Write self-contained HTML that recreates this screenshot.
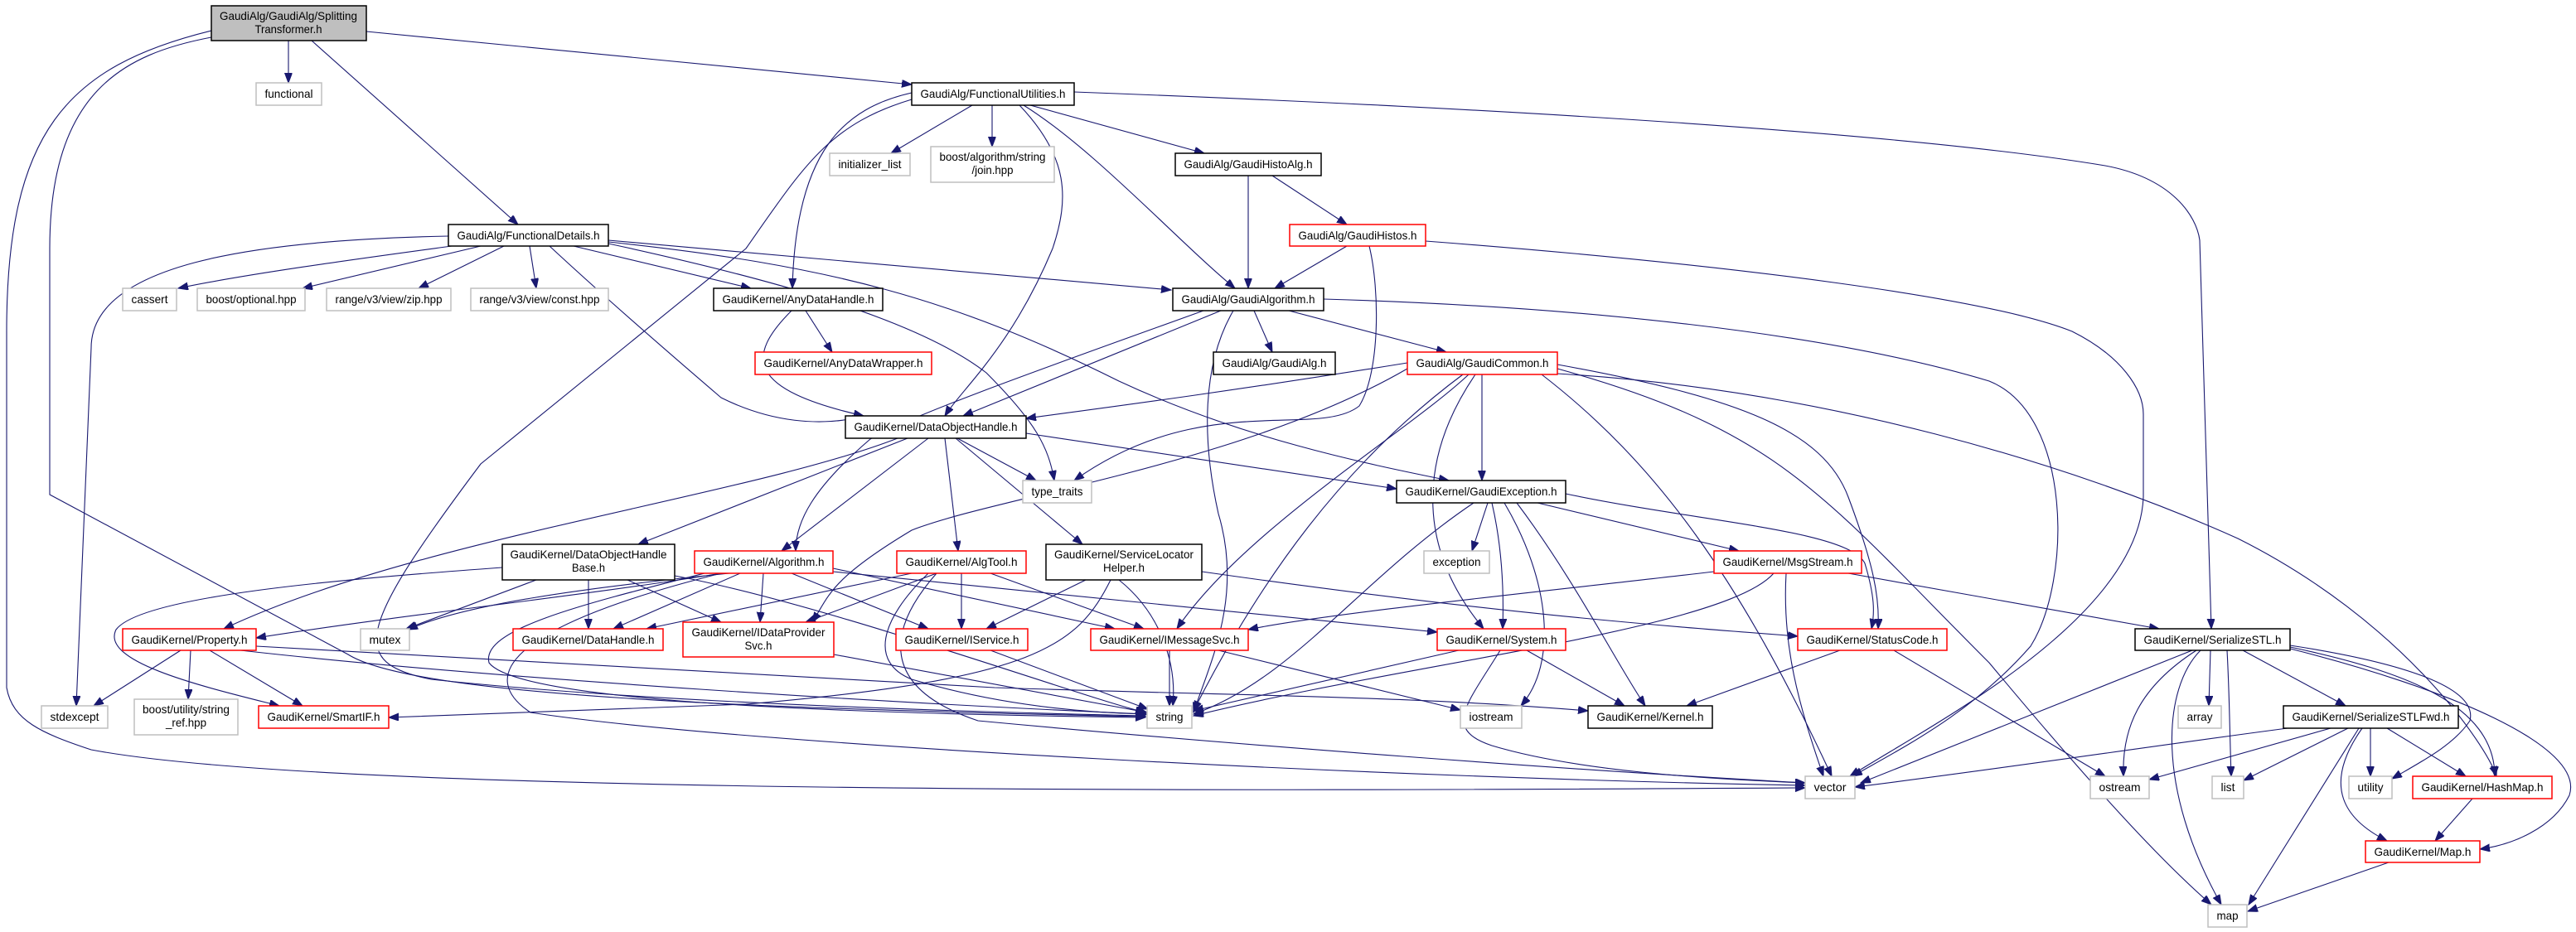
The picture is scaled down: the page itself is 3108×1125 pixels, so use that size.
<!DOCTYPE html>
<html><head><meta charset="utf-8"><style>
html,body{margin:0;padding:0;background:#fff;}
svg{display:block;}
text{font-family:"Liberation Sans",sans-serif;font-size:14px;text-anchor:middle;fill:#000;}
.e{fill:none;stroke:#191970;stroke-width:1.1;marker-end:url(#a);}
.k{fill:#fff;stroke:#000;stroke-width:1.5;}
.r{fill:#fff;stroke:#ff0000;stroke-width:1.5;}
.g{fill:#fff;stroke:#bfbfbf;stroke-width:1.5;}
</style></head><body>
<svg width="3108" height="1125" viewBox="0 0 3108 1125" xmlns="http://www.w3.org/2000/svg">
<defs><marker id="a" markerUnits="userSpaceOnUse" markerWidth="13" markerHeight="10" refX="12" refY="4.5" orient="auto"><path d="M0,0 L12,4.5 L0,9 z" fill="#191970" stroke="#191970"/></marker></defs>
<g>
<path class="e" d="M348 49 L348 100"/>
<path class="e" d="M376 49 L625 271"/>
<path class="e" d="M442 38 L1100 102"/>
<path class="e" d="M255 45 C150 65, 60 110, 60 300 L60 597 L420 790 C500 840, 900 855, 1382 865"/>
<path class="e" d="M255 37 C80 80, 8 160, 8 400 L8 830 C15 870, 50 885, 110 905 C400 960, 1500 955, 2178 951"/>
<path class="e" d="M541 285 C300 290, 110 320, 110 420 L92 852"/>
<path class="e" d="M545 297 C450 310, 300 330, 215 348"/>
<path class="e" d="M580 297 L365 348"/>
<path class="e" d="M608 297 L505 348"/>
<path class="e" d="M639 297 L647 348"/>
<path class="e" d="M692 297 L906 348"/>
<path class="e" d="M663 297 C720 350, 800 420, 870 480 C930 510, 990 515, 1040 503"/>
<path class="e" d="M734 290 L1413 350"/>
<path class="e" d="M734 292 C1000 320, 1150 360, 1350 460 C1500 530, 1650 560, 1748 580"/>
<path class="e" d="M734 294 C900 330, 1100 380, 1190 450 C1250 510, 1265 540, 1272 580"/>
<path class="e" d="M955 375 C900 430, 900 470, 1042 502"/>
<path class="e" d="M972 375 L1004 425"/>
<path class="e" d="M1173 127 L1075 185"/>
<path class="e" d="M1197 127 L1197 177"/>
<path class="e" d="M1243 127 L1453 185"/>
<path class="e" d="M1235 127 C1320 180, 1420 290, 1490 348"/>
<path class="e" d="M1230 127 C1290 190, 1290 240, 1270 300 C1220 420, 1160 470, 1140 502"/>
<path class="e" d="M1296 111 C1800 130, 2300 160, 2540 200 C2620 215, 2650 260, 2654 290 L2668 759"/>
<path class="e" d="M1100 112 C1020 130, 960 180, 956 348"/>
<path class="e" d="M1100 120 C1000 150, 970 200, 900 300 L580 560 C430 760, 420 800, 520 820 C800 850, 1200 860, 1382 864"/>
<path class="e" d="M1506 212 L1506 348"/>
<path class="e" d="M1535 212 L1625 271"/>
<path class="e" d="M1625 297 L1538 348"/>
<path class="e" d="M1652 297 C1665 350, 1665 450, 1640 490 C1590 530, 1450 470, 1296 580"/>
<path class="e" d="M1720 291 C2100 320, 2400 360, 2500 400 C2560 430, 2586 470, 2586 500 L2586 600 C2580 750, 2320 880, 2232 937"/>
<path class="e" d="M1513 375 L1535 425"/>
<path class="e" d="M1555 375 L1745 425"/>
<path class="e" d="M1473 375 L1162 502"/>
<path class="e" d="M1452 375 C1300 430, 1100 500, 1050 530 C980 590, 960 630, 960 665"/>
<path class="e" d="M1488 375 C1450 440, 1450 530, 1470 620 C1500 720, 1460 800, 1440 860"/>
<path class="e" d="M1597 361 C1900 370, 2200 400, 2400 460 C2500 500, 2500 700, 2450 780 C2380 860, 2300 900, 2235 937"/>
<path class="e" d="M1698 438 C1500 470, 1350 490, 1238 505"/>
<path class="e" d="M1788 452 L1788 580"/>
<path class="e" d="M1772 452 C1700 520, 1500 640, 1420 759"/>
<path class="e" d="M1780 452 C1720 540, 1700 650, 1790 759"/>
<path class="e" d="M1765 452 C1620 560, 1520 700, 1440 858"/>
<path class="e" d="M1698 445 C1500 560, 1200 600, 1100 640 C1000 700, 1000 720, 980 751"/>
<path class="e" d="M1879 440 C2100 480, 2200 520, 2230 600 C2260 680, 2268 720, 2266 759"/>
<path class="e" d="M1860 452 C2000 560, 2100 700, 2210 937"/>
<path class="e" d="M1879 445 C2150 520, 2200 600, 2400 800 C2550 980, 2620 1050, 2668 1092"/>
<path class="e" d="M1879 451 C2200 470, 2500 560, 2700 650 C2900 750, 3000 900, 3012 937"/>
<path class="e" d="M1155 529 L1250 580"/>
<path class="e" d="M1238 523 L1685 590"/>
<path class="e" d="M1083 529 C900 600, 500 650, 270 759"/>
<path class="e" d="M1095 529 L770 657"/>
<path class="e" d="M1120 529 L943 665"/>
<path class="e" d="M1140 529 L1156 665"/>
<path class="e" d="M1153 529 L1306 657"/>
<path class="e" d="M1795 607 L1776 665"/>
<path class="e" d="M1778 607 C1640 700, 1560 820, 1440 862"/>
<path class="e" d="M1800 607 C1810 650, 1815 700, 1813 759"/>
<path class="e" d="M1830 607 C1900 700, 1950 800, 1985 852"/>
<path class="e" d="M1815 607 C1870 700, 1880 800, 1835 852"/>
<path class="e" d="M1855 607 L2098 665"/>
<path class="e" d="M1889 596 C2050 630, 2230 640, 2250 680 C2262 720, 2262 740, 2258 759"/>
<path class="e" d="M606 685 C400 700, 170 720, 140 760 C120 800, 250 830, 337 852"/>
<path class="e" d="M647 700 L490 759"/>
<path class="e" d="M710 700 L710 759"/>
<path class="e" d="M757 700 L870 751"/>
<path class="e" d="M814 695 C1000 730, 1300 840, 1382 860"/>
<path class="e" d="M870 692 C700 720, 500 740, 309 770"/>
<path class="e" d="M880 692 C700 710, 560 730, 492 760"/>
<path class="e" d="M893 692 L740 759"/>
<path class="e" d="M921 692 L917 751"/>
<path class="e" d="M955 692 L1120 759"/>
<path class="e" d="M1005 686 L1345 759"/>
<path class="e" d="M1005 690 C1300 720, 1600 750, 1734 763"/>
<path class="e" d="M850 692 C700 730, 580 760, 590 800 C620 840, 900 860, 1382 866"/>
<path class="e" d="M870 692 C600 760, 580 820, 640 860 C900 900, 1700 940, 2178 948"/>
<path class="e" d="M1100 692 L780 759"/>
<path class="e" d="M1130 692 L972 751"/>
<path class="e" d="M1160 692 L1160 759"/>
<path class="e" d="M1195 692 L1380 759"/>
<path class="e" d="M1120 692 C1060 750, 1050 800, 1100 820 C1200 850, 1300 860, 1382 862"/>
<path class="e" d="M1130 692 C1070 760, 1060 830, 1180 870 C1500 900, 1900 930, 2178 945"/>
<path class="e" d="M1310 700 L1190 759"/>
<path class="e" d="M1350 700 C1400 740, 1420 800, 1415 852"/>
<path class="e" d="M1450 690 C1800 740, 2000 755, 2169 768"/>
<path class="e" d="M1340 700 C1300 780, 1250 820, 900 850 L469 866"/>
<path class="e" d="M1195 785 L1385 856"/>
<path class="e" d="M1411 785 L1411 852"/>
<path class="e" d="M1470 785 L1762 857"/>
<path class="e" d="M1760 785 L1440 858"/>
<path class="e" d="M1842 785 L1960 852"/>
<path class="e" d="M1810 785 C1770 850, 1740 880, 1800 900 C1900 930, 2050 940, 2178 945"/>
<path class="e" d="M2220 785 L2035 852"/>
<path class="e" d="M2285 785 L2540 937"/>
<path class="e" d="M2068 690 C1900 710, 1600 740, 1506 760"/>
<path class="e" d="M2140 692 C2080 760, 1700 800, 1440 864"/>
<path class="e" d="M2155 692 C2150 780, 2170 850, 2200 937"/>
<path class="e" d="M2230 692 L2605 759"/>
<path class="e" d="M218 785 L113 852"/>
<path class="e" d="M230 785 L227 844"/>
<path class="e" d="M253 785 L365 852"/>
<path class="e" d="M290 785 C600 820, 1100 850, 1384 862"/>
<path class="e" d="M309 780 C700 800, 1000 820, 1200 830 C1500 840, 1700 840, 1916 858"/>
<path class="e" d="M1006 790 L1384 860"/>
<path class="e" d="M2645 785 L2245 945"/>
<path class="e" d="M2650 785 C2580 830, 2560 880, 2562 937"/>
<path class="e" d="M2655 785 C2610 830, 2600 950, 2680 1092"/>
<path class="e" d="M2667 785 L2665 852"/>
<path class="e" d="M2687 785 C2690 840, 2690 880, 2692 937"/>
<path class="e" d="M2706 785 L2830 852"/>
<path class="e" d="M2763 779 C2900 800, 2990 830, 2980 870 C2960 900, 2920 920, 2886 940"/>
<path class="e" d="M2763 781 C2900 810, 3010 850, 3010 937"/>
<path class="e" d="M2763 783 C2950 830, 3120 900, 3100 960 C3080 1000, 3030 1020, 2992 1025"/>
<path class="e" d="M2760 879 C2600 900, 2400 930, 2238 950"/>
<path class="e" d="M2812 879 L2593 941"/>
<path class="e" d="M2833 879 L2707 942"/>
<path class="e" d="M2860 879 L2860 937"/>
<path class="e" d="M2880 879 L2975 937"/>
<path class="e" d="M2850 879 C2800 950, 2830 990, 2880 1015"/>
<path class="e" d="M2846 879 L2713 1092"/>
<path class="e" d="M2983 964 L2938 1015"/>
<path class="e" d="M2882 1041 L2712 1100"/>
</g>
<g>
<rect x="255" y="7" width="187" height="42" fill="#bfbfbf" stroke="#000" stroke-width="1.5"/>
<text x="348" y="24" textLength="166" lengthAdjust="spacingAndGlyphs">GaudiAlg/GaudiAlg/Splitting</text>
<text x="348" y="40" textLength="81" lengthAdjust="spacingAndGlyphs">Transformer.h</text>
<rect class="g" x="309" y="100" width="79" height="27"/><text x="348.5" y="118" textLength="58" lengthAdjust="spacingAndGlyphs">functional</text>
<rect class="k" x="1100" y="100" width="196" height="27"/><text x="1198" y="118" textLength="175" lengthAdjust="spacingAndGlyphs">GaudiAlg/FunctionalUtilities.h</text>
<rect class="k" x="541" y="271" width="193" height="26"/><text x="637.5" y="289" textLength="172" lengthAdjust="spacingAndGlyphs">GaudiAlg/FunctionalDetails.h</text>
<rect class="g" x="1001" y="185" width="97" height="27"/><text x="1049.5" y="203" textLength="76" lengthAdjust="spacingAndGlyphs">initializer_list</text>
<rect class="g" x="1123" y="177" width="149" height="43"/><text x="1197.5" y="194" textLength="128" lengthAdjust="spacingAndGlyphs">boost/algorithm/string</text><text x="1197.5" y="210" textLength="50" lengthAdjust="spacingAndGlyphs">/join.hpp</text>
<rect class="k" x="1418" y="185" width="176" height="27"/><text x="1506" y="203" textLength="155" lengthAdjust="spacingAndGlyphs">GaudiAlg/GaudiHistoAlg.h</text>
<rect class="r" x="1556" y="271" width="164" height="26"/><text x="1638" y="289" textLength="143" lengthAdjust="spacingAndGlyphs">GaudiAlg/GaudiHistos.h</text>
<rect class="g" x="148" y="348" width="65" height="27"/><text x="180.5" y="366" textLength="44" lengthAdjust="spacingAndGlyphs">cassert</text>
<rect class="g" x="238" y="348" width="130" height="27"/><text x="303" y="366" textLength="109" lengthAdjust="spacingAndGlyphs">boost/optional.hpp</text>
<rect class="g" x="394" y="348" width="150" height="27"/><text x="469" y="366" textLength="129" lengthAdjust="spacingAndGlyphs">range/v3/view/zip.hpp</text>
<rect class="g" x="568" y="348" width="166" height="27"/><text x="651" y="366" textLength="145" lengthAdjust="spacingAndGlyphs">range/v3/view/const.hpp</text>
<rect class="k" x="861" y="348" width="204" height="27"/><text x="963" y="366" textLength="183" lengthAdjust="spacingAndGlyphs">GaudiKernel/AnyDataHandle.h</text>
<rect class="k" x="1415" y="348" width="182" height="27"/><text x="1506" y="366" textLength="161" lengthAdjust="spacingAndGlyphs">GaudiAlg/GaudiAlgorithm.h</text>
<rect class="r" x="911" y="425" width="213" height="27"/><text x="1017.5" y="443" textLength="192" lengthAdjust="spacingAndGlyphs">GaudiKernel/AnyDataWrapper.h</text>
<rect class="k" x="1464" y="425" width="147" height="27"/><text x="1537.5" y="443" textLength="126" lengthAdjust="spacingAndGlyphs">GaudiAlg/GaudiAlg.h</text>
<rect class="r" x="1698" y="425" width="181" height="27"/><text x="1788.5" y="443" textLength="160" lengthAdjust="spacingAndGlyphs">GaudiAlg/GaudiCommon.h</text>
<rect class="k" x="1020" y="502" width="218" height="27"/><text x="1129" y="520" textLength="197" lengthAdjust="spacingAndGlyphs">GaudiKernel/DataObjectHandle.h</text>
<rect class="g" x="1234" y="580" width="83" height="27"/><text x="1275.5" y="598" textLength="62" lengthAdjust="spacingAndGlyphs">type_traits</text>
<rect class="k" x="1685" y="580" width="204" height="27"/><text x="1787" y="598" textLength="183" lengthAdjust="spacingAndGlyphs">GaudiKernel/GaudiException.h</text>
<rect class="k" x="606" y="657" width="208" height="43"/><text x="710" y="674" textLength="189" lengthAdjust="spacingAndGlyphs">GaudiKernel/DataObjectHandle</text><text x="710" y="690" textLength="40" lengthAdjust="spacingAndGlyphs">Base.h</text>
<rect class="r" x="838" y="665" width="167" height="27"/><text x="921.5" y="683" textLength="146" lengthAdjust="spacingAndGlyphs">GaudiKernel/Algorithm.h</text>
<rect class="r" x="1082" y="665" width="156" height="27"/><text x="1160" y="683" textLength="135" lengthAdjust="spacingAndGlyphs">GaudiKernel/AlgTool.h</text>
<rect class="k" x="1262" y="657" width="188" height="43"/><text x="1356" y="674" textLength="168" lengthAdjust="spacingAndGlyphs">GaudiKernel/ServiceLocator</text><text x="1356" y="690" textLength="50" lengthAdjust="spacingAndGlyphs">Helper.h</text>
<rect class="g" x="1718" y="665" width="79" height="27"/><text x="1757.5" y="683" textLength="58" lengthAdjust="spacingAndGlyphs">exception</text>
<rect class="r" x="2068" y="665" width="178" height="27"/><text x="2157" y="683" textLength="157" lengthAdjust="spacingAndGlyphs">GaudiKernel/MsgStream.h</text>
<rect class="r" x="148" y="759" width="161" height="26"/><text x="228.5" y="777" textLength="140" lengthAdjust="spacingAndGlyphs">GaudiKernel/Property.h</text>
<rect class="g" x="435" y="759" width="59" height="26"/><text x="464.5" y="777" textLength="38" lengthAdjust="spacingAndGlyphs">mutex</text>
<rect class="r" x="619" y="759" width="181" height="26"/><text x="709.5" y="777" textLength="160" lengthAdjust="spacingAndGlyphs">GaudiKernel/DataHandle.h</text>
<rect class="r" x="824" y="751" width="182" height="42"/><text x="915" y="768" textLength="161" lengthAdjust="spacingAndGlyphs">GaudiKernel/IDataProvider</text><text x="915" y="784" textLength="33" lengthAdjust="spacingAndGlyphs">Svc.h</text>
<rect class="r" x="1081" y="759" width="159" height="26"/><text x="1160.5" y="777" textLength="138" lengthAdjust="spacingAndGlyphs">GaudiKernel/IService.h</text>
<rect class="r" x="1316" y="759" width="190" height="26"/><text x="1411" y="777" textLength="169" lengthAdjust="spacingAndGlyphs">GaudiKernel/IMessageSvc.h</text>
<rect class="r" x="1734" y="759" width="155" height="26"/><text x="1811.5" y="777" textLength="134" lengthAdjust="spacingAndGlyphs">GaudiKernel/System.h</text>
<rect class="r" x="2169" y="759" width="180" height="26"/><text x="2259" y="777" textLength="159" lengthAdjust="spacingAndGlyphs">GaudiKernel/StatusCode.h</text>
<rect class="k" x="2576" y="759" width="187" height="26"/><text x="2669.5" y="777" textLength="166" lengthAdjust="spacingAndGlyphs">GaudiKernel/SerializeSTL.h</text>
<rect class="g" x="50" y="852" width="80" height="27"/><text x="90" y="870" textLength="59" lengthAdjust="spacingAndGlyphs">stdexcept</text>
<rect class="g" x="162" y="844" width="125" height="43"/><text x="224.5" y="861" textLength="105" lengthAdjust="spacingAndGlyphs">boost/utility/string</text><text x="224.5" y="877" textLength="49" lengthAdjust="spacingAndGlyphs">_ref.hpp</text>
<rect class="r" x="312" y="852" width="157" height="27"/><text x="390.5" y="870" textLength="136" lengthAdjust="spacingAndGlyphs">GaudiKernel/SmartIF.h</text>
<rect class="g" x="1384" y="852" width="54" height="27"/><text x="1411" y="870" textLength="33" lengthAdjust="spacingAndGlyphs">string</text>
<rect class="g" x="1762" y="852" width="74" height="27"/><text x="1799" y="870" textLength="53" lengthAdjust="spacingAndGlyphs">iostream</text>
<rect class="k" x="1916" y="852" width="150" height="27"/><text x="1991" y="870" textLength="129" lengthAdjust="spacingAndGlyphs">GaudiKernel/Kernel.h</text>
<rect class="g" x="2628" y="852" width="52" height="27"/><text x="2654" y="870" textLength="31" lengthAdjust="spacingAndGlyphs">array</text>
<rect class="k" x="2755" y="852" width="211" height="27"/><text x="2860.5" y="870" textLength="190" lengthAdjust="spacingAndGlyphs">GaudiKernel/SerializeSTLFwd.h</text>
<rect class="g" x="2178" y="937" width="60" height="27"/><text x="2208" y="955" textLength="39" lengthAdjust="spacingAndGlyphs">vector</text>
<rect class="g" x="2522" y="937" width="71" height="27"/><text x="2557.5" y="955" textLength="50" lengthAdjust="spacingAndGlyphs">ostream</text>
<rect class="g" x="2669" y="937" width="38" height="27"/><text x="2688" y="955" textLength="17" lengthAdjust="spacingAndGlyphs">list</text>
<rect class="g" x="2834" y="937" width="52" height="27"/><text x="2860" y="955" textLength="31" lengthAdjust="spacingAndGlyphs">utility</text>
<rect class="r" x="2911" y="937" width="168" height="27"/><text x="2995" y="955" textLength="147" lengthAdjust="spacingAndGlyphs">GaudiKernel/HashMap.h</text>
<rect class="r" x="2854" y="1015" width="138" height="26"/><text x="2923" y="1033" textLength="117" lengthAdjust="spacingAndGlyphs">GaudiKernel/Map.h</text>
<rect class="g" x="2664" y="1092" width="47" height="27"/><text x="2687.5" y="1110" textLength="26" lengthAdjust="spacingAndGlyphs">map</text>
</g>
</svg>
</body></html>
